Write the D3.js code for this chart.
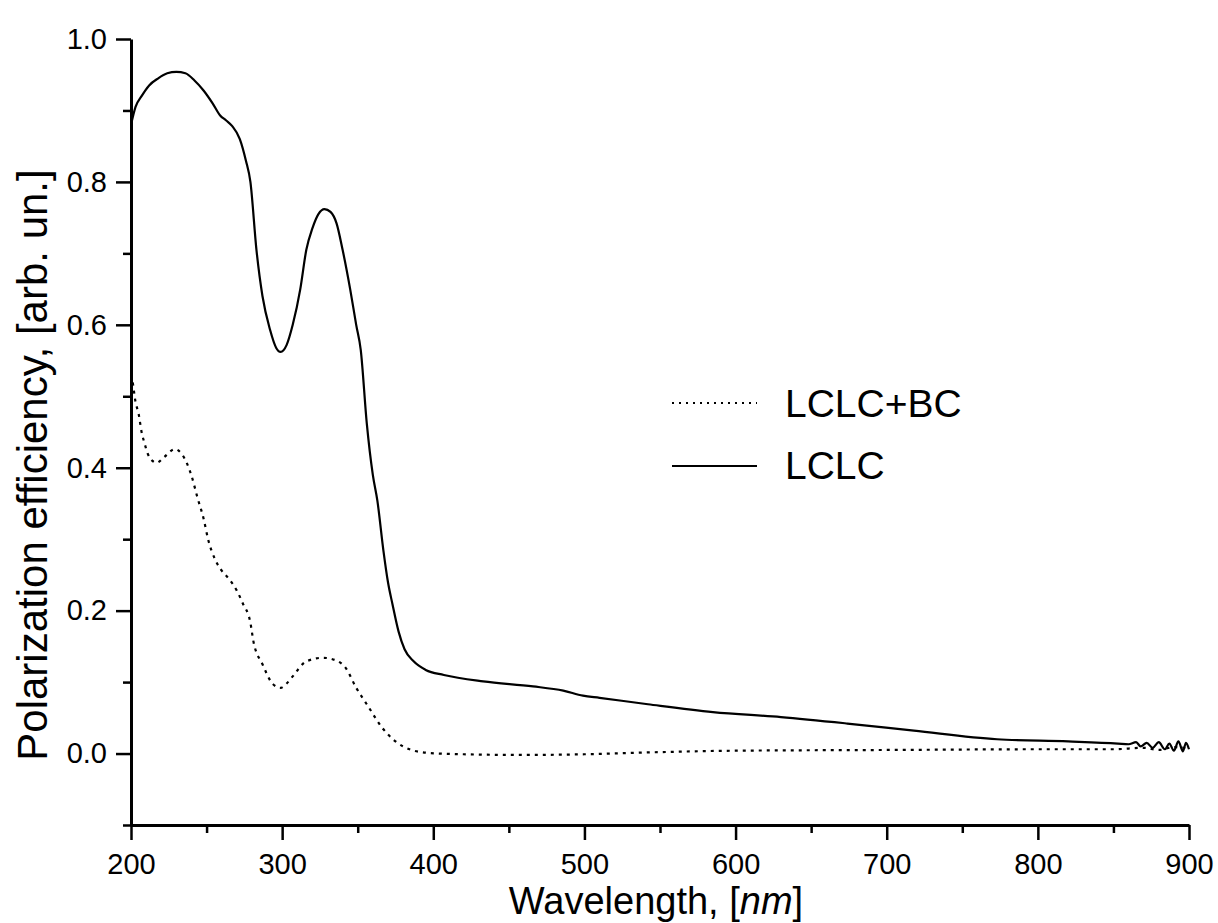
<!DOCTYPE html>
<html>
<head>
<meta charset="utf-8">
<script src="https://cdn.jsdelivr.net/npm/d3@7"></script>
<style>
  body { margin: 0; background: #fff; }
  svg { display: block; font-family: Arial, "Liberation Sans", sans-serif; }
</style>
</head>
<body>
<svg width="1218" height="923"></svg>
<script>
// LCLC (solid)
const lclcNm = [200, 203, 207, 212, 218, 224, 230, 236, 242, 248, 254, 259, 263, 267, 272, 276, 279, 283, 287, 292, 296, 299,
  303, 307, 312, 316, 320, 324, 328, 332, 336, 340, 345, 349, 352, 356, 360, 363, 367, 370, 373, 377, 381, 387, 395, 407,
  433, 466, 486, 499, 510, 542, 585, 630, 674, 718, 773, 820, 853,
  860, 865, 868, 872, 876, 880, 884, 887, 890, 893, 896, 898, 900];
const lclcVal = [0.88, 0.905, 0.92, 0.935, 0.945, 0.952, 0.954, 0.952, 0.942, 0.928, 0.91, 0.893, 0.886, 0.878, 0.86, 0.83, 0.80, 0.705, 0.64, 0.593, 0.568, 0.562,
  0.572, 0.60, 0.65, 0.705, 0.735, 0.755, 0.762, 0.758, 0.742, 0.705, 0.65, 0.60, 0.565, 0.462, 0.39, 0.354, 0.284, 0.24, 0.209, 0.171, 0.146, 0.129, 0.117, 0.110,
  0.101, 0.094, 0.088, 0.081, 0.078, 0.069, 0.058, 0.051, 0.042, 0.032, 0.020, 0.017, 0.014,
  0.013, 0.016, 0.010, 0.015, 0.008, 0.016, 0.006, 0.014, 0.004, 0.017, 0.003, 0.015, 0.006];

// LCLC+BC (dotted)
const bcNm = [200, 201, 203, 205, 207, 209, 211, 214, 217, 222, 229, 234, 240, 244, 248, 251, 256, 260, 265, 270, 274, 279,
  281, 287, 294, 299, 303, 307, 316, 327, 336, 342, 349, 356, 367, 380, 396, 420, 460, 500, 550, 600, 700, 800, 850,
  870, 880, 890, 900];
const bcVal = [0.53, 0.521, 0.492, 0.476, 0.45, 0.434, 0.42, 0.41, 0.407, 0.415, 0.426, 0.418, 0.389, 0.358, 0.329, 0.30, 0.27, 0.256, 0.244, 0.228, 0.21, 0.183,
  0.157, 0.125, 0.097, 0.092, 0.098, 0.108, 0.129, 0.134, 0.130, 0.12, 0.092, 0.069, 0.034, 0.01, 0.001, -0.001, -0.002, -0.001, 0.002, 0.004, 0.005, 0.006, 0.006,
  0.008, 0.005, 0.009, 0.007];

const xMajor = [200, 300, 400, 500, 600, 700, 800, 900];
const xMinor = [250, 350, 450, 550, 650, 750, 850];
const yMajor = [0.0, 0.2, 0.4, 0.6, 0.8, 1.0];
const yMinor = [-0.1, 0.1, 0.3, 0.5, 0.7, 0.9];

const svg = d3.select('svg');
const x = d3.scaleLinear().domain([200, 900]).range([131, 1189]);
const y = d3.scaleLinear().domain([-0.1, 1.0]).range([825, 39]);

// minor ticks first
svg.append('g').attr('transform', 'translate(0,825)')
  .call(d3.axisBottom(x).tickValues(xMinor).tickSize(8).tickFormat(''))
  .call(g => g.select('.domain').remove());
svg.append('g').attr('transform', 'translate(131,0)')
  .call(d3.axisLeft(y).tickValues(yMinor).tickSize(8).tickFormat(''))
  .call(g => g.select('.domain').remove());

svg.append('g').attr('transform', 'translate(0,825)')
  .call(d3.axisBottom(x).tickValues(xMajor).tickSize(15).tickSizeOuter(0).tickPadding(13).tickFormat(d3.format('d')));
svg.append('g').attr('transform', 'translate(131,0)')
  .call(d3.axisLeft(y).tickValues(yMajor).tickSize(15).tickSizeOuter(0).tickPadding(9).tickFormat(d3.format('.1f')));

svg.selectAll('.tick line').attr('stroke', '#000').attr('stroke-width', 2.5);
svg.selectAll('.domain').attr('stroke', '#000').attr('stroke-width', 3);
svg.selectAll('.tick text').attr('font-size', 29).attr('fill', '#000')
  .attr('font-family', 'Arial, "Liberation Sans", sans-serif');

const line = d3.line().x(d => x(d[0])).y(d => y(d[1])).curve(d3.curveMonotoneX);

svg.append('path')
  .datum(d3.zip(bcNm, bcVal))
  .attr('d', line)
  .attr('fill', 'none')
  .attr('stroke', '#000')
  .attr('stroke-width', 2.2)
  .attr('stroke-dasharray', '3,5');

svg.append('path')
  .datum(d3.zip(lclcNm, lclcVal))
  .attr('d', line)
  .attr('fill', 'none')
  .attr('stroke', '#000')
  .attr('stroke-width', 2.2);

// legend
const legend = svg.append('g');
legend.append('line').attr('x1', 672).attr('x2', 757).attr('y1', 403).attr('y2', 403)
  .attr('stroke', '#000').attr('stroke-width', 2).attr('stroke-dasharray', '2,5');
legend.append('text').attr('x', 785).attr('y', 417).attr('font-size', 39).text('LCLC+BC');
legend.append('line').attr('x1', 672).attr('x2', 757).attr('y1', 466).attr('y2', 466)
  .attr('stroke', '#000').attr('stroke-width', 2);
legend.append('text').attr('x', 785).attr('y', 479).attr('font-size', 39).text('LCLC');

// axis titles
svg.append('text')
  .attr('x', 656).attr('y', 914)
  .attr('text-anchor', 'middle')
  .attr('font-size', 38)
  .html('Wavelength, [<tspan font-style="italic">nm</tspan>]');

svg.append('text')
  .attr('transform', 'translate(47,465) rotate(-90)')
  .attr('text-anchor', 'middle')
  .attr('font-size', 42)
  .text('Polarization efficiency, [arb. un.]');
</script>
</body>
</html>
